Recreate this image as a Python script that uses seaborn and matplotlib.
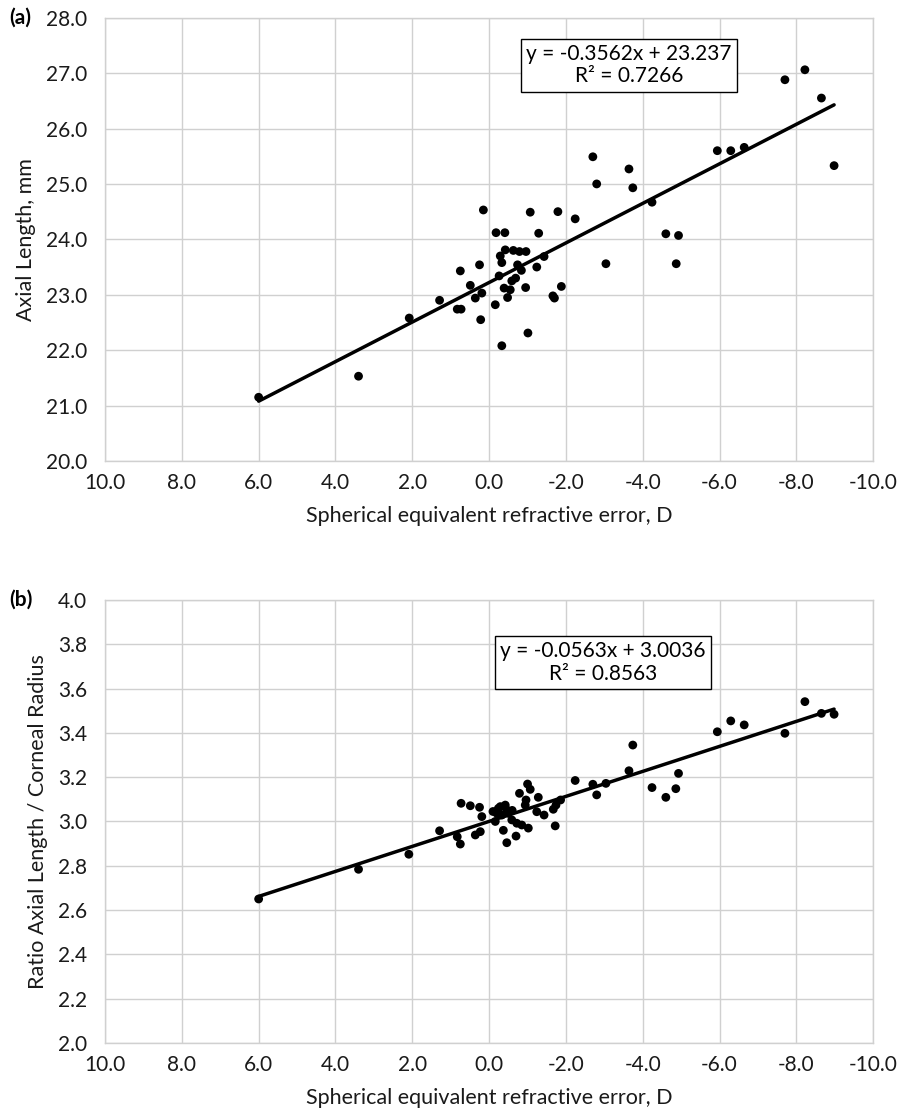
import numpy as np
import pandas as pd
import matplotlib
matplotlib.use("Agg")
import matplotlib.pyplot as plt
import seaborn as sns
from matplotlib.ticker import FixedLocator, FuncFormatter

# ---------------- data ----------------
ser_a = [6.00, 3.40, 2.08, 1.29, 0.83, 0.73, 0.75, 0.49, 0.36, 0.19, 0.25, 0.22, 0.15,
         -0.16, -0.26, -0.18, -0.41, -0.29, -0.33, -0.42, -0.33, -0.39, -0.55, -0.48,
         -0.63, -0.79, -0.96, -0.59, -0.69, -0.74, -0.84, -0.95, -1.01, -1.07, -1.24,
         -1.29, -1.43, -1.66, -1.70, -1.79, -1.88, -2.24, -2.70, -2.80, -3.04, -3.64,
         -3.74, -4.24, -4.60, -4.93, -4.87, -5.94, -6.29, -6.64, -7.70, -8.22, -8.65, -8.98]
axial_length = [21.15, 21.53, 22.58, 22.90, 22.74, 22.74, 23.43, 23.17, 22.94, 23.03, 23.54,
                22.55, 24.53, 22.82, 23.34, 24.12, 24.12, 23.70, 23.58, 23.81, 22.08, 23.12,
                23.09, 22.95, 23.80, 23.78, 23.78, 23.25, 23.30, 23.54, 23.44, 23.13, 22.31,
                24.49, 23.50, 24.11, 23.69, 22.98, 22.94, 24.50, 23.15, 24.37, 25.49, 25.00,
                23.56, 25.27, 24.93, 24.67, 24.10, 24.07, 23.56, 25.60, 25.60, 25.66, 26.88,
                27.06, 26.55, 25.33]

ser_b = [6.00, 3.40, 2.09, 1.29, 0.83, 0.75, 0.73, 0.49, 0.25, 0.19, 0.36, 0.23, -0.16,
         -0.20, -0.29, -0.42, -0.46, -0.33, -0.24, -0.50, -0.37, -0.46, -0.70, -0.59,
         -0.72, -0.85, -1.02, -0.79, -1.00, -1.07, -0.96, -0.94, -1.28, -1.24, -1.43,
         -1.67, -1.74, -1.72, -1.86, -2.24, -2.70, -2.80, -3.04, -3.64, -3.74, -4.24,
         -4.60, -4.86, -4.93, -5.94, -6.29, -6.64, -7.70, -8.22, -8.65, -8.98, -0.10, -0.60]
al_cr_ratio = [2.650, 2.784, 2.852, 2.958, 2.931, 2.898, 3.082, 3.071, 3.064, 3.022, 2.939,
               2.954, 3.000, 3.037, 3.067, 3.074, 3.052, 3.029, 3.059, 3.037, 2.960, 2.904,
               2.934, 3.007, 2.992, 2.984, 2.970, 3.127, 3.169, 3.145, 3.097, 3.074, 3.109,
               3.044, 3.029, 3.055, 3.074, 2.980, 3.097, 3.185, 3.168, 3.120, 3.172, 3.229,
               3.345, 3.153, 3.109, 3.148, 3.217, 3.405, 3.454, 3.436, 3.398, 3.541, 3.488,
               3.484, 3.045, 3.050]

x_ticks = [10, 8, 6, 4, 2, 0, -2, -4, -6, -8, -10]
ya_ticks = [20, 21, 22, 23, 24, 25, 26, 27, 28]
yb_ticks = [2.0, 2.2, 2.4, 2.6, 2.8, 3.0, 3.2, 3.4, 3.6, 3.8, 4.0]

eq_a = "y = -0.3562x + 23.237\nR² = 0.7266"
eq_b = "y = -0.0563x + 3.0036\nR² = 0.8563"
xlabel = "Spherical equivalent refractive error, D"
ylabel_a = "Axial Length, mm"
ylabel_b = "Ratio Axial Length / Corneal Radius"

# ---------------- style ----------------
sns.set_style("white")
plt.rcParams["font.family"] = ["Lato", "DejaVu Sans"]
TXT = "#1a1a1a"
GRID = "#d0d0d0"

fig = plt.figure(figsize=(9.09, 11.2), dpi=100)
ax_a = fig.add_axes([0.1155, 0.5884, 0.8452, 0.3958])
ax_b = fig.add_axes([0.1155, 0.0688, 0.8452, 0.3955])

df_a = pd.DataFrame({"ser": ser_a, "val": axial_length})
df_b = pd.DataFrame({"ser": ser_b, "val": al_cr_ratio})

def draw(ax, df, yticks, ylabel, eq, eqpos, panel):
    sns.regplot(data=df, x="ser", y="val", ax=ax, ci=None,
                scatter_kws=dict(s=40, color="black", edgecolor="none", alpha=1, zorder=3),
                line_kws=dict(color="black", lw=2.5, zorder=4))
    ax.set_xlim(10, -10)
    ax.set_ylim(yticks[0], yticks[-1])
    ax.xaxis.set_major_locator(FixedLocator(x_ticks))
    ax.yaxis.set_major_locator(FixedLocator(yticks))
    ax.xaxis.set_major_formatter(FuncFormatter(lambda v, p: f"{v:.1f}"))
    ax.yaxis.set_major_formatter(FuncFormatter(lambda v, p: f"{v:.1f}"))
    ax.grid(True, color=GRID, lw=1.0)
    ax.set_axisbelow(True)
    for s in ax.spines.values():
        s.set_color(GRID)
        s.set_linewidth(1.0)
    ax.tick_params(axis="both", length=0, labelsize=15, colors=TXT)
    ax.tick_params(axis="x", pad=9)
    ax.tick_params(axis="y", pad=13)
    ax.set_xlabel(xlabel, fontsize=15.5, color=TXT, labelpad=9)
    ax.set_ylabel(ylabel, fontsize=15.5, color=TXT, labelpad=7)
    ax.text(eqpos[0], eqpos[1], eq, transform=ax.transAxes, ha="center", va="center",
            ma="center", fontsize=15, color="black", linespacing=1.15, zorder=6,
            bbox=dict(boxstyle="square,pad=0.25", fc="white", ec="black", lw=1.0))
    ax.text(-0.124, 1.0, panel, transform=ax.transAxes, ha="left", va="center",
            fontsize=15, fontweight="bold", color="black")

draw(ax_a, df_a, ya_ticks, ylabel_a, eq_a, (0.682, 0.893), "(a)")
draw(ax_b, df_b, yb_ticks, ylabel_b, eq_b, (0.648, 0.859), "(b)")

fig.savefig("out.png", dpi=100)
